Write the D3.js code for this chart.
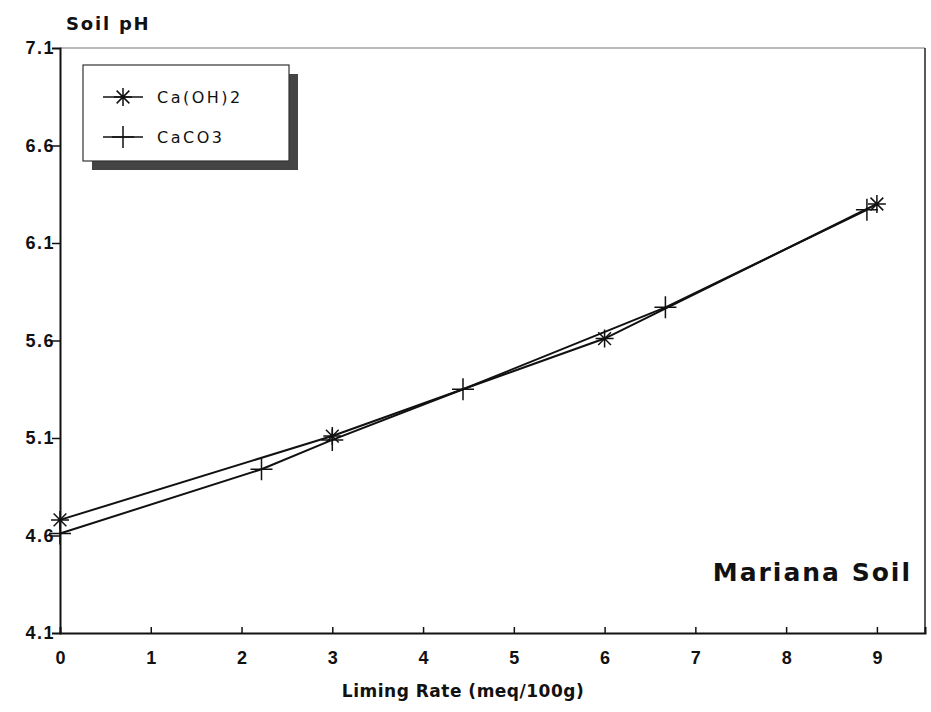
<!DOCTYPE html>
<html>
<head>
<meta charset="utf-8">
<script src="https://cdn.jsdelivr.net/npm/d3@7"></script>
<style>
  body { margin: 0; background: #fff; }
  svg { font-family: "DejaVu Sans", "Liberation Sans", sans-serif; }
</style>
</head>
<body>
<div id="chart"></div>
<script>
// liming rate (meq/100g) vs soil pH
const caohX = [0, 3, 6, 9];
const caohY = [4.68, 5.11, 5.61, 6.30];
const caco3X = [0, 2.22, 3, 4.44, 6.67, 8.89];
const caco3Y = [4.61, 4.94, 5.09, 5.35, 5.77, 6.27];
const xTicks = [0, 1, 2, 3, 4, 5, 6, 7, 8, 9];
const yTicks = [4.1, 4.6, 5.1, 5.6, 6.1, 6.6, 7.1];
const legendLabels = ["Ca(OH)2", "CaCO3"];

const width = 931, height = 712;
const margin = { top: 48, right: 6, bottom: 79, left: 60 };

const svg = d3.select("#chart").append("svg")
    .attr("width", width)
    .attr("height", height);

const xScale = d3.scaleLinear()
    .domain([0, 9.53])
    .range([margin.left, width - margin.right]);

const yScale = d3.scaleLinear()
    .domain([4.1, 7.1])
    .range([height - margin.bottom, margin.top]);

// frame: top edge is faint in the scan
svg.append("line")
    .attr("x1", xScale(0)).attr("x2", xScale(9.53))
    .attr("y1", yScale(7.1)).attr("y2", yScale(7.1))
    .attr("stroke", "#777").attr("stroke-width", 1.2);
svg.append("line")
    .attr("x1", xScale(9.53)).attr("x2", xScale(9.53))
    .attr("y1", yScale(7.1)).attr("y2", yScale(4.1))
    .attr("stroke", "#222").attr("stroke-width", 1.5);

// y axis, ticks point outward
const yAxis = d3.axisLeft(yScale)
    .tickValues(yTicks)
    .tickFormat(d3.format(".1f"))
    .tickSize(8)
    .tickPadding(3);

const yg = svg.append("g")
    .attr("transform", "translate(" + margin.left + ",0)")
    .call(yAxis);
yg.select(".domain").attr("stroke", "#111").attr("stroke-width", 2);
yg.selectAll(".tick line").attr("stroke", "#111").attr("stroke-width", 1.5)
    .filter(d => d === 4.1 || d === 7.1).remove();
yg.selectAll(".tick text")
    .attr("font-size", 18)
    .attr("font-weight", "bold")
    .attr("letter-spacing", 1.5)
    .attr("fill", "#111")
    .attr("x", -5);

// x axis, ticks point inward
const xAxis = d3.axisBottom(xScale)
    .tickValues(xTicks)
    .tickFormat(d3.format("d"))
    .tickSize(-6)
    .tickPadding(18);

const xg = svg.append("g")
    .attr("transform", "translate(0," + (height - margin.bottom) + ")")
    .call(xAxis);
xg.select(".domain").attr("stroke", "#111").attr("stroke-width", 2);
xg.selectAll(".tick line").attr("stroke", "#111").attr("stroke-width", 1.5)
    .filter(d => d === 0).remove();
xg.selectAll(".tick text")
    .attr("font-size", 18)
    .attr("font-weight", "bold")
    .attr("fill", "#111");

svg.append("text")
    .attr("x", 66)
    .attr("y", 30)
    .attr("font-size", 18)
    .attr("font-weight", "bold")
    .attr("letter-spacing", 1.8)
    .attr("fill", "#111")
    .text("Soil pH");

svg.append("text")
    .attr("x", 463)
    .attr("y", 697)
    .attr("text-anchor", "middle")
    .attr("font-size", 17)
    .attr("font-weight", "bold")
    .attr("letter-spacing", 0.5)
    .attr("fill", "#111")
    .text("Liming Rate (meq/100g)");

svg.append("text")
    .attr("x", 912)
    .attr("y", 581)
    .attr("text-anchor", "end")
    .attr("font-size", 25)
    .attr("font-weight", "bold")
    .attr("letter-spacing", 2)
    .attr("fill", "#111")
    .text("Mariana Soil");

const line = d3.line()
    .x(d => xScale(d[0]))
    .y(d => yScale(d[1]));

const caohPts = caohX.map((x, i) => [x, caohY[i]]);
const caco3Pts = caco3X.map((x, i) => [x, caco3Y[i]]);

function starPath(r) {
    let p = "";
    for (let a = 0; a < 4; a++) {
        const t = a * Math.PI / 4;
        p += "M" + (-r * Math.cos(t)) + "," + (-r * Math.sin(t)) +
            "L" + (r * Math.cos(t)) + "," + (r * Math.sin(t));
    }
    return p;
}
function plusPath(r) {
    return "M" + (-r) + ",0L" + r + ",0M0," + (-r) + "L0," + r;
}

[[caohPts, starPath(9)], [caco3Pts, plusPath(11)]].forEach(([pts, marker]) => {
    svg.append("path")
        .datum(pts)
        .attr("d", line)
        .attr("fill", "none")
        .attr("stroke", "#111")
        .attr("stroke-width", 2);
    svg.selectAll(null)
        .data(pts)
        .enter().append("path")
        .attr("transform", d => "translate(" + xScale(d[0]) + "," + yScale(d[1]) + ")")
        .attr("d", marker)
        .attr("fill", "none")
        .attr("stroke", "#111")
        .attr("stroke-width", 1.5);
});

// legend with drop shadow
const legend = svg.append("g").attr("transform", "translate(83,65)");
legend.append("rect")
    .attr("x", 9).attr("y", 9)
    .attr("width", 206).attr("height", 96)
    .attr("fill", "#444");
legend.append("rect")
    .attr("width", 206).attr("height", 96)
    .attr("fill", "#fff")
    .attr("stroke", "#333")
    .attr("stroke-width", 1.2);

const markers = [starPath(9), plusPath(11)];
legendLabels.forEach((lab, i) => {
    const y = 32 + i * 40;
    legend.append("line")
        .attr("x1", 20).attr("x2", 60)
        .attr("y1", y).attr("y2", y)
        .attr("stroke", "#111").attr("stroke-width", 1.5);
    legend.append("path")
        .attr("transform", "translate(40," + y + ")")
        .attr("d", markers[i])
        .attr("fill", "none")
        .attr("stroke", "#111")
        .attr("stroke-width", 1.5);
    legend.append("text")
        .attr("x", 74).attr("y", y + 6)
        .attr("font-size", 16)
        .attr("letter-spacing", 2.5)
        .attr("fill", "#111")
        .text(lab);
});
</script>
</body>
</html>
